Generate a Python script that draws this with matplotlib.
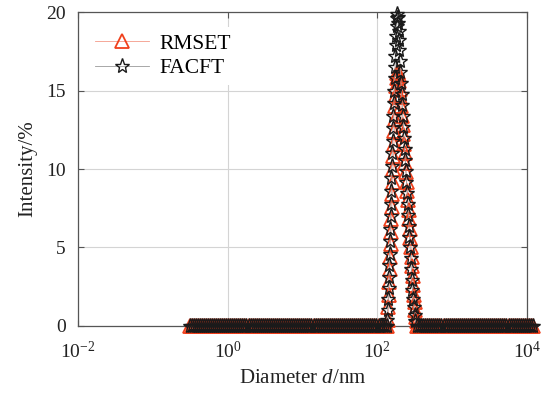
import numpy as np
import matplotlib
matplotlib.use("Agg")
import matplotlib.pyplot as plt
from matplotlib.ticker import FixedLocator, FixedFormatter, NullLocator

plt.rcParams['font.family'] = ['Liberation Serif', 'DejaVu Serif']
plt.rcParams['mathtext.fontset'] = 'custom'
plt.rcParams['mathtext.rm'] = 'Liberation Serif'
plt.rcParams['mathtext.it'] = 'Liberation Serif:italic'

# ---- data ----
series_names = ["RMSET", "FACFT"]

# baseline (zero-intensity) size bins, nm
baseline_start_nm = 0.31
baseline_end_nm = 12000.0
baseline_count = 170

rmset_peak_d = [138.3, 140.5, 142.7, 144.9, 146.7, 148.5, 150.3, 152.2, 154.1, 156.0,
                157.9, 159.9, 161.9, 163.9, 166.5, 169.1, 171.7, 174.4, 177.1, 179.8,
                182.6, 185.5, 189.0, 192.5, 196.1, 199.8, 203.5, 207.9, 212.5, 217.1,
                221.9, 226.8, 231.7, 236.8, 241.9, 247.2, 252.6, 257.4, 262.2, 267.1,
                272.1, 277.2, 282.4, 287.7, 293.1, 298.5, 304.1, 309.8, 316.3, 323.5,
                331.2, 339.1]
rmset_peak_i = [0.4, 1.2, 2.0, 2.8, 3.6, 4.4, 5.2, 6.0, 6.8, 7.6,
                8.4, 9.2, 10.0, 10.8, 11.6, 12.4, 13.2, 14.0, 14.7, 15.3,
                15.8, 16.1, 16.2, 16.0, 15.6, 15.1, 14.6, 14.0, 13.4, 12.8,
                12.2, 11.6, 11.0, 10.4, 9.8, 9.2, 8.6, 8.0, 7.4, 6.8,
                6.2, 5.6, 5.0, 4.4, 3.8, 3.2, 2.6, 2.0, 1.5, 1.0,
                0.6, 0.3]

facft_peak_d = [136.2, 137.9, 139.6, 141.4, 143.1, 144.9, 146.2, 147.6, 149.0, 150.3,
                151.7, 153.2, 154.6, 156.0, 157.9, 159.9, 161.9, 163.9, 165.9, 168.0,
                170.1, 172.3, 174.4, 176.6, 178.7, 180.9, 183.2, 185.5, 187.8, 190.1,
                192.5, 194.9, 197.3, 200.4, 203.5, 207.3, 211.2, 215.1, 219.1, 223.3,
                227.5, 231.7, 236.0, 240.4, 244.9, 249.6, 254.2, 259.0, 263.9, 268.7,
                273.8, 278.9, 284.2, 289.4, 294.8, 301.2, 308.0, 317.5, 323.5]
facft_peak_i = [0.4, 1.0, 1.7, 2.4, 3.1, 3.9, 4.6, 5.4, 6.2, 7.0,
                7.8, 8.6, 9.4, 10.2, 11.0, 11.8, 12.6, 13.4, 14.2, 15.0,
                15.8, 16.5, 17.2, 17.9, 18.5, 19.1, 19.6, 19.9, 19.7, 19.3,
                18.8, 18.2, 17.6, 16.9, 16.2, 15.5, 14.8, 14.1, 13.4, 12.7,
                12.0, 11.3, 10.6, 9.9, 9.2, 8.5, 7.8, 7.1, 6.4, 5.7,
                5.0, 4.3, 3.6, 2.9, 2.3, 1.7, 1.2, 0.7, 0.3]

x_tick_vals = [1e-2, 1e0, 1e2, 1e4]
x_tick_labels = [r"$10^{-2}$", r"$10^{0}$", r"$10^{2}$", r"$10^{4}$"]
y_tick_vals = [0, 5, 10, 15, 20]
y_tick_labels = ["0", "5", "10", "15", "20"]


def full_series(peak_d, peak_i):
    base = np.geomspace(baseline_start_nm, baseline_end_nm, baseline_count)
    lo, hi = min(peak_d), max(peak_d)
    left = base[base < lo]
    right = base[base > hi]
    d = np.concatenate([left, np.array(peak_d), right])
    i = np.concatenate([np.zeros(len(left)), np.array(peak_i), np.zeros(len(right))])
    return d, i


fig = plt.figure(figsize=(5.47, 3.95), dpi=100)
ax = fig.add_axes([0.1426, 0.1747, 0.8208, 0.7949])

red = '#f0401c'
d1, i1 = full_series(rmset_peak_d, rmset_peak_i)
d2, i2 = full_series(facft_peak_d, facft_peak_i)
ax.plot(d1, i1, color='#f49a88', lw=0.6, marker='^', markersize=9.5,
        markerfacecolor='none', markeredgecolor=red, markeredgewidth=1.3,
        clip_on=False, label=series_names[0], zorder=3)
ax.plot(d2, i2, color='#9a9a9a', lw=0.6, marker='*', markersize=11,
        markerfacecolor='none', markeredgecolor='#1a1a1a', markeredgewidth=1.0,
        clip_on=False, label=series_names[1], zorder=4)

ax.set_xscale('log')
ax.set_xlim(1e-2, 1e4)
ax.set_ylim(0, 20)
ax.xaxis.set_major_locator(FixedLocator(x_tick_vals))
ax.xaxis.set_major_formatter(FixedFormatter(x_tick_labels))
ax.xaxis.set_minor_locator(NullLocator())
ax.yaxis.set_major_locator(FixedLocator(y_tick_vals))
ax.yaxis.set_major_formatter(FixedFormatter(y_tick_labels))

ax.grid(True, color='#d4d4d4', lw=0.8)
ax.set_axisbelow(True)
for s in ax.spines.values():
    s.set_color('#555555')
    s.set_linewidth(0.9)
ax.tick_params(direction='in', length=4, width=0.8, color='#555555',
               top=True, right=True, labelsize=14, labelcolor='#222222')
ax.tick_params(axis='x', pad=11)
ax.tick_params(axis='y', pad=9)

ax.set_xlabel(r"Diameter $d$/nm", fontsize=15, color='#222222', labelpad=5)
ax.set_ylabel("Intensity/%", fontsize=15, color='#222222', labelpad=6)

leg = ax.legend(loc='upper left', fontsize=15.5, frameon=True, framealpha=1,
                edgecolor='none', facecolor='white', handlelength=2.5,
                borderaxespad=0.5, labelspacing=0.2, handletextpad=0.5,
                borderpad=0.3, fancybox=False, bbox_to_anchor=(0.0, 0.985))
leg.set_zorder(10)

fig.savefig("out.png", dpi=100)
